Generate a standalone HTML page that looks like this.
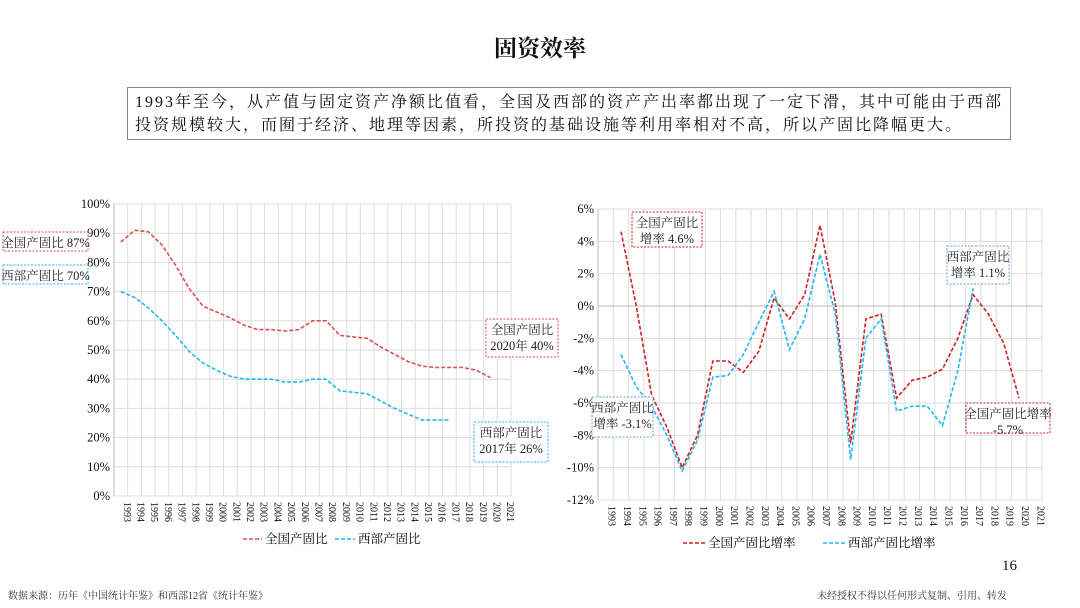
<!DOCTYPE html>
<html><head><meta charset="utf-8">
<style>
body{margin:0;background:#fff;}
#wrap{position:relative;width:1080px;height:608px;overflow:hidden;font-family:"Liberation Serif","Noto Serif CJK SC",serif;}
.t{position:absolute;white-space:nowrap;}
</style></head>
<body><div id="wrap">
<div class="t" style="left:0;width:1080px;top:30px;text-align:center;font-size:23px;font-weight:bold;color:#111;">固资效率</div>
<div class="t" style="left:127px;top:87px;width:884px;height:53px;border:1px solid #888;box-sizing:border-box;padding:3px 0 0 7px;font-size:16px;line-height:23px;color:#111;letter-spacing:2px;">1993年至今，从产值与固定资产净额比值看，全国及西部的资产产出率都出现了一定下滑，其中可能由于西部<br>投资规模较大，而囿于经济、地理等因素，所投资的基础设施等利用率相对不高，所以产固比降幅更大。</div>
<div class="t" style="left:1002px;top:558px;font-size:15px;color:#111;">16</div>
<div class="t" style="left:8px;top:587px;font-size:10px;color:#333;">数据来源：历年《中国统计年鉴》和西部12省《统计年鉴》</div>
<div class="t" style="left:817px;top:587px;font-size:10px;color:#333;">未经授权不得以任何形式复制、引用、转发</div>
<svg id="s" width="1080" height="608" style="position:absolute;left:0;top:0;" font-family="Liberation Serif, Noto Serif CJK SC, serif"></svg>
</div>
<script>
var s=document.getElementById('s'),h='';
var R='#d02020',B='#22b8f0';
function chart(x0,x1,y0,y1,vmax,vmin,step,fmt,series,fs){
 var n=29,cw=(x1-x0)/n;
 function X(i){return x0+cw*(i+0.5);}
 function Y(v){return y0+(vmax-v)/(vmax-vmin)*(y1-y0);}
 for(var i=0;i<=n;i++){var x=x0+cw*i;h+='<line x1="'+x+'" y1="'+y0+'" x2="'+x+'" y2="'+y1+'" stroke="#ddd"/>';}
 for(var v=vmax;v>=vmin-1e-9;v-=step){var y=Y(v);h+='<line x1="'+x0+'" y1="'+y+'" x2="'+x1+'" y2="'+y+'" stroke="'+(Math.abs(v)<1e-9&&vmin<0?'#bbb':'#ddd')+'"/>';
  h+='<text x="'+(x0-4)+'" y="'+(y+4)+'" text-anchor="end" font-size="'+fs+'" fill="#111">'+fmt(v)+'</text>';}
 h+='<line x1="'+x0+'" y1="'+y0+'" x2="'+x0+'" y2="'+y1+'" stroke="#bbb"/>';
 for(var i=0;i<n;i++){var x=X(i)+3;h+='<text transform="translate('+x+','+(y1+6)+') rotate(90)" font-size="10" fill="#111">'+(1993+i)+'</text>';}
 series.forEach(function(se){var p=[];se.d.forEach(function(v,k){p.push(X(se.o+k).toFixed(1)+','+Y(v).toFixed(1));});
  h+='<polyline points="'+p.join(' ')+'" fill="none" stroke="'+se.c+'" stroke-width="1.6" stroke-dasharray="4,2"/>';});
}
chart(114,511,204,496,100,0,10,function(v){return Math.round(v)+'%';},[
 {c:'#d85050',o:0,d:[87,91,90.5,86,79,71,65,63,61,58.5,57,57,56.5,57,60,60,55,54.5,54,51,48.5,46,44.5,44,44,44,43,40.5]},
 {c:B,o:0,d:[70,68,64.5,60,55,49.5,45.5,43,41,40,40,40,39,39,40,40,36,35.5,35,32.5,30,28,26,26,26]}],12.5);
chart(598,1042,209,500,6,-12,2,function(v){return Math.round(v)+'%';},[
 {c:R,o:1,d:[4.6,0,-5.5,-7.5,-10,-8,-3.4,-3.4,-4.1,-2.8,0.5,-0.8,0.7,5,0.2,-8.5,-0.8,-0.5,-5.7,-4.6,-4.4,-3.9,-2,0.7,-0.5,-2.3,-5.7]},
 {c:B,o:1,d:[-3,-5,-6.2,-8,-10.2,-8.3,-4.4,-4.3,-3,-1,0.9,-2.7,-0.8,3.2,-0.5,-9.5,-2,-0.8,-6.5,-6.2,-6.2,-7.4,-4,1.1]}],12.5);
function box(x,y,w,hh,c,lines){h+='<rect x="'+x+'" y="'+y+'" width="'+w+'" height="'+hh+'" fill="#fff" stroke="'+c+'" stroke-dasharray="2,1.5"/>';
 lines.forEach(function(t,i){h+='<text x="'+(x+w/2)+'" y="'+(y+15+i*16)+'" text-anchor="middle" font-size="12.5" fill="#222">'+t+'</text>';});}
box(3,232,85,19,'#d85050',['全国产固比 87%']);
box(3,265,85,19,B,['西部产固比 70%']);
box(486,319,72,38,'#d85050',['全国产固比','2020年 40%']);
box(474,422,74,40,B,['西部产固比','2017年 26%']);
box(632,212,70,35,R,['全国产固比','增率 4.6%']);
box(947,246,62,38,'#6a9ee0',['西部产固比','增率 1.1%']);
box(592,397,61,40,'#6a9ee0',['西部产固比','增率 -3.1%']);
box(966,403,84,30,R,['全国产固比增率','-5.7%']);
h+='<line x1="243" y1="539" x2="262" y2="539" stroke="#d85050" stroke-width="1.6" stroke-dasharray="4,2"/><text x="265" y="543" font-size="12.5">全国产固比</text>';
h+='<line x1="335" y1="539" x2="355" y2="539" stroke="'+B+'" stroke-width="1.6" stroke-dasharray="4,2"/><text x="358" y="543" font-size="12.5">西部产固比</text>';
h+='<line x1="683" y1="543" x2="706" y2="543" stroke="'+R+'" stroke-width="1.6" stroke-dasharray="4,2"/><text x="708" y="547" font-size="12.5">全国产固比增率</text>';
h+='<line x1="823" y1="543" x2="846" y2="543" stroke="'+B+'" stroke-width="1.6" stroke-dasharray="4,2"/><text x="848" y="547" font-size="12.5">西部产固比增率</text>';
s.innerHTML=h;
</script>
</body></html>
